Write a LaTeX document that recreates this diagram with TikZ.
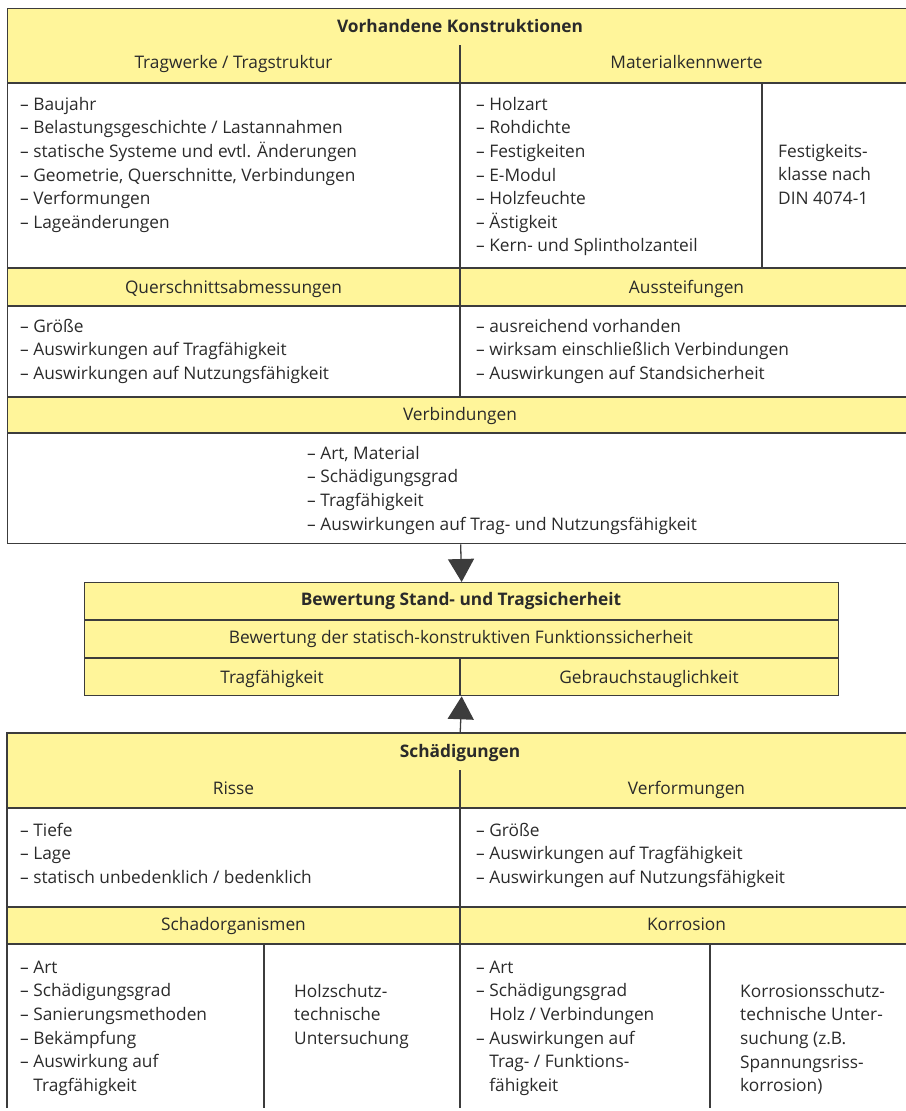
\documentclass[tikz,border=0pt]{standalone}
\usepackage{fontspec}
\setmainfont{Open Sans}
\usetikzlibrary{arrows.meta}
\definecolor{yfill}{HTML}{FFF59A}
\definecolor{lc}{HTML}{3C3C3C}
\definecolor{tc}{HTML}{2A2A2A}
\newcommand\fnt{\fontsize{17.3}{23.6}\selectfont}
\newcommand\lead{\rule{0pt}{17pt}}
\newcommand\hang{\hphantom{– }}
\tikzset{
  yel/.style={fill=yfill,draw=none},
  ln/.style={draw=lc,line width=1.3pt},
  frame/.style={draw=lc,line width=1.3pt,inner sep=0pt,anchor=north west,rectangle},
  hdr/.style={font=\fnt,text=tc,anchor=base,inner sep=0pt},
  bhdr/.style={font=\fnt\bfseries,text=tc,anchor=base,inner sep=0pt},
  lst/.style={font=\fnt,text=tc,align=left,anchor=north west,inner sep=0pt},
  bigarrow/.style={draw=lc,line width=1.3pt,-{Triangle[width=26pt,length=23pt]}}
}
\begin{document}
\begin{tikzpicture}[x=1pt,y=-1pt]
\useasboundingbox (0,0) rectangle (905,1111);
% ---------- Vorhandene Konstruktionen ----------
\fill[yel] (7,8) rectangle (913,83);
\fill[yel] (7,268) rectangle (913,306);
\fill[yel] (7,397) rectangle (913,433);
\node[frame,minimum width=906pt,minimum height=535pt] (vk) at (7,8) {};
\foreach \yy in {83,268,306,397,433} \draw[ln] (7,\yy) -- (913,\yy);
\draw[ln] (460,45) -- (460,397);
\draw[ln] (762,83) -- (762,268);
\node[bhdr] (vkt) at (460,32) {Vorhandene Konstruktionen};
\node[hdr] (tw) at (233.5,68) {Tragwerke / Tragstruktur};
\node[hdr] (mk) at (686.5,68) {Materialkennwerte};
\node[lst] (twl) at (20,93) {\lead– Baujahr\\– Belastungsgeschichte / Lastannahmen\\– statische Systeme und evtl. Änderungen\\– Geometrie, Querschnitte, Verbindungen\\– Verformungen\\– Lageänderungen};
\node[lst] (mkl) at (476,93) {\lead– Holzart\\– Rohdichte\\– Festigkeiten\\– E-Modul\\– Holzfeuchte\\– Ästigkeit\\– Kern- und Splintholzanteil};
\node[lst] (fk) at (778,140) {\lead Festigkeits-\\klasse nach\\DIN 4074-1};
\node[hdr] (qa) at (233.5,293) {Querschnittsabmessungen};
\node[hdr] (as) at (686.5,293) {Aussteifungen};
\node[lst] (qal) at (20,315) {\lead– Größe\\– Auswirkungen auf Tragfähigkeit\\– Auswirkungen auf Nutzungsfähigkeit};
\node[lst] (asl) at (476,315) {\lead– ausreichend vorhanden\\– wirksam einschließlich Verbindungen\\– Auswirkungen auf Standsicherheit};
\node[hdr] (vb) at (460,420) {Verbindungen};
\node[lst] (vbl) at (307,442) {\lead– Art, Material\\– Schädigungsgrad\\– Tragfähigkeit\\– Auswirkungen auf Trag- und Nutzungsfähigkeit};
% ---------- Bewertung ----------
\fill[yel] (84,582) rectangle (838,695);
\node[frame,minimum width=754pt,minimum height=113pt] (bw) at (84,582) {};
\draw[ln] (84,620) -- (838,620);
\draw[ln] (84,658) -- (838,658);
\draw[ln] (460,658) -- (460,695);
\node[bhdr] (bwt) at (461,605) {Bewertung Stand- und Tragsicherheit};
\node[hdr] (bwf) at (461,643) {Bewertung der statisch-konstruktiven Funktionssicherheit};
\node[hdr] (tf) at (272,683) {Tragfähigkeit};
\node[hdr] (gt) at (649,683) {Gebrauchstauglichkeit};
% ---------- Schädigungen ----------
\fill[yel] (7,733) rectangle (913,808);
\fill[yel] (7,907) rectangle (913,944);
\node[inner sep=0pt,anchor=north west,minimum width=906pt,minimum height=380pt] (sch) at (7,733) {};
\draw[ln] (7,1108) -- (7,733) -- (913,733);
\foreach \yy in {808,907,944} \draw[ln] (7,\yy) -- (913,\yy);
\draw[ln] (460,770) -- (460,1108);
\draw[ln] (264,944) -- (264,1108);
\draw[ln] (710,944) -- (710,1108);
\node[bhdr] (scht) at (460,757) {Schädigungen};
\node[hdr] (ri) at (233.5,794) {Risse};
\node[hdr] (vf) at (686.5,794) {Verformungen};
\node[lst] (ril) at (20,819) {\lead– Tiefe\\– Lage\\– statisch unbedenklich / bedenklich};
\node[lst] (vfl) at (476,819) {\lead– Größe\\– Auswirkungen auf Tragfähigkeit\\– Auswirkungen auf Nutzungsfähigkeit};
\node[hdr] (so) at (233.5,930) {Schadorganismen};
\node[hdr] (ko) at (686.5,930) {Korrosion};
\node[lst] (sol) at (20,956) {\lead– Art\\– Schädigungsgrad\\– Sanierungsmethoden\\– Bekämpfung\\– Auswirkung auf\\\hang Tragfähigkeit};
\node[lst] (hs) at (294,980) {\lead Holzschutz-\\technische\\Untersuchung};
\node[lst] (kol) at (476,956) {\lead– Art\\– Schädigungsgrad\\\hang Holz / Verbindungen\\– Auswirkungen auf\\\hang Trag- / Funktions-\\\hang fähigkeit};
\node[lst] (ks) at (740,980) {\lead Korrosionsschutz-\\technische Unter-\\suchung (z.B.\\Spannungsriss-\\korrosion)};
% ---------- arrows ----------
\draw[bigarrow] (vk.south) -- (bw.north);
\draw[bigarrow] (sch.north) -- (bw.south);
\end{tikzpicture}
\end{document}
